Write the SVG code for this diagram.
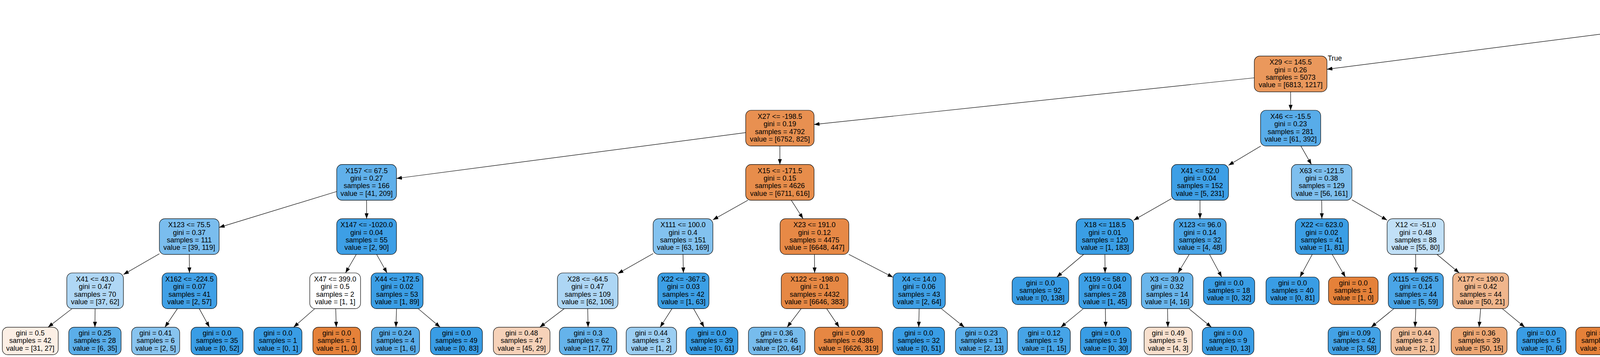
<svg xmlns="http://www.w3.org/2000/svg" width="5973" height="913" viewBox="0 0 5973 913">
<defs>
<marker id="ah" markerUnits="userSpaceOnUse" markerWidth="14" markerHeight="10" refX="13" refY="4.7" orient="auto" viewBox="0 0 13 9.4"><path d="M0,0 L13,4.7 L0,9.4 z" fill="#000"/></marker>
</defs>
<style>
text{font-family:"Liberation Sans",Arial,Helvetica,sans-serif;font-size:18px;text-anchor:middle;fill:#000}
.n rect{stroke:#000;stroke-width:1.2}
#edges line{stroke:#000;stroke-width:1.2;marker-end:url(#ah)}
.lbl{text-anchor:start}
</style>
<rect width="5973" height="913" fill="#fff"/>
<g id="edges">
<line x1="4292" y1="62.4" x2="3397" y2="177.2"/>
<line x1="4479" y1="76.6" x2="4803" y2="167.3"/>
<line x1="3211" y1="199" x2="2084" y2="318.4"/>
<line x1="3304" y1="234.8" x2="3304" y2="282"/>
<line x1="4881.3" y1="234.8" x2="4881.7" y2="282"/>
<line x1="4959" y1="206.4" x2="5436" y2="311.9"/>
<line x1="1909" y1="339.2" x2="1015" y2="456.4"/>
<line x1="1996.5" y1="373.4" x2="1996.5" y2="420.7"/>
<line x1="3227.6" y1="373.4" x2="3145" y2="422.8"/>
<line x1="3330.2" y1="373.4" x2="3357.3" y2="420.7"/>
<line x1="4806" y1="372.3" x2="4718" y2="423.9"/>
<line x1="4952.8" y1="373.4" x2="5026.2" y2="420.7"/>
<line x1="5507.5" y1="373.4" x2="5507" y2="420.7"/>
<line x1="5561.9" y1="373.4" x2="5630.6" y2="431.2"/>
<line x1="862" y1="489.8" x2="561" y2="581.6"/>
<line x1="938.5" y1="512.1" x2="938.5" y2="559.3"/>
<line x1="1914.7" y1="512.1" x2="1825" y2="562.2"/>
<line x1="2025.7" y1="512.1" x2="2055.8" y2="559.3"/>
<line x1="2999" y1="508" x2="2902" y2="563.2"/>
<line x1="3072" y1="512.1" x2="3072" y2="559.3"/>
<line x1="3383.5" y1="512.1" x2="3384" y2="559.3"/>
<line x1="3461" y1="511.1" x2="3551" y2="562.9"/>
<line x1="4573" y1="507.3" x2="4467" y2="567.2"/>
<line x1="4645.5" y1="512.1" x2="4645.5" y2="559.3"/>
<line x1="5097" y1="512.1" x2="5097" y2="559.3"/>
<line x1="5174" y1="509.9" x2="5270" y2="564.1"/>
<line x1="5507" y1="512.1" x2="5508" y2="569.8"/>
<line x1="5559.9" y1="512.1" x2="5614.6" y2="559.3"/>
<line x1="408" y1="649" x2="316" y2="702"/>
<line x1="484.5" y1="650.7" x2="485" y2="698"/>
<line x1="912" y1="650.7" x2="884.5" y2="698"/>
<line x1="964.2" y1="650.7" x2="990.8" y2="698"/>
<line x1="1672" y1="648.5" x2="1582" y2="699.6"/>
<line x1="1748.5" y1="650.7" x2="1749.5" y2="698"/>
<line x1="2085" y1="650.7" x2="2085.5" y2="698"/>
<line x1="2173" y1="650.5" x2="2286" y2="709"/>
<line x1="2774.1" y1="650.7" x2="2705.4" y2="708.5"/>
<line x1="2828.5" y1="650.7" x2="2829" y2="698"/>
<line x1="3044.3" y1="650.7" x2="3015.7" y2="698"/>
<line x1="3096.5" y1="650.7" x2="3127.6" y2="708.5"/>
<line x1="3359.3" y1="650.7" x2="3328" y2="708.5"/>
<line x1="3410.5" y1="650.7" x2="3444.1" y2="708.5"/>
<line x1="3624" y1="650.7" x2="3624.5" y2="698"/>
<line x1="3678.9" y1="650.7" x2="3735.6" y2="698"/>
<line x1="4348.4" y1="650.7" x2="4295.1" y2="698"/>
<line x1="4400" y1="650.7" x2="4400" y2="708.5"/>
<line x1="4617.2" y1="650.7" x2="4587.8" y2="698"/>
<line x1="4671.5" y1="650.7" x2="4698.5" y2="698"/>
<line x1="5071.5" y1="650.7" x2="5045" y2="698"/>
<line x1="5126" y1="650.7" x2="5162.7" y2="708.5"/>
<line x1="5342.5" y1="650.7" x2="5345" y2="698"/>
<line x1="5396.2" y1="650.7" x2="5464.1" y2="708.5"/>
<line x1="5667.5" y1="650.7" x2="5665" y2="708.5"/>
<line x1="5718.1" y1="650.7" x2="5770.4" y2="698"/>
<line x1="184.4" y1="789.4" x2="123" y2="836.8"/>
<line x1="243.5" y1="789.4" x2="243" y2="836.8"/>
<line x1="454.2" y1="789.4" x2="422.2" y2="836.8"/>
<line x1="510.1" y1="789.4" x2="536.2" y2="836.8"/>
<line x1="805.8" y1="789.4" x2="751.7" y2="836.8"/>
<line x1="859.4" y1="789.4" x2="860.9" y2="836.8"/>
<line x1="1015.1" y1="789.4" x2="1013.6" y2="836.8"/>
<line x1="1070.6" y1="789.4" x2="1126.8" y2="836.8"/>
<line x1="1444.3" y1="789.4" x2="1381.9" y2="836.8"/>
<line x1="1504.5" y1="789.4" x2="1505.5" y2="836.8"/>
<line x1="1720.3" y1="789.4" x2="1690" y2="836.8"/>
<line x1="1775.5" y1="789.4" x2="1802.5" y2="836.8"/>
<line x1="2051" y1="789.4" x2="2015.1" y2="836.8"/>
<line x1="2116.3" y1="789.4" x2="2148.3" y2="836.8"/>
<line x1="2353" y1="789.4" x2="2352" y2="836.8"/>
<line x1="2409.8" y1="789.4" x2="2468.7" y2="836.8"/>
<line x1="2773.4" y1="789.4" x2="2715.8" y2="836.8"/>
<line x1="2829.7" y1="789.4" x2="2830.5" y2="836.8"/>
<line x1="2988.9" y1="789.4" x2="2989.8" y2="836.8"/>
<line x1="3043.6" y1="789.4" x2="3101.2" y2="836.8"/>
<line x1="3568.4" y1="789.4" x2="3510.2" y2="836.8"/>
<line x1="3624.5" y1="789.4" x2="3622.5" y2="836.8"/>
<line x1="3790.5" y1="789.4" x2="3786.5" y2="836.8"/>
<line x1="3845.9" y1="789.4" x2="3903.3" y2="836.8"/>
<line x1="4191.3" y1="789.4" x2="4137.2" y2="836.8"/>
<line x1="4245.1" y1="789.4" x2="4246.8" y2="836.8"/>
<line x1="4503.9" y1="789.4" x2="4446.3" y2="836.8"/>
<line x1="4559.5" y1="789.4" x2="4559.5" y2="836.8"/>
<line x1="4719.5" y1="789.4" x2="4714.3" y2="836.8"/>
<line x1="4774.9" y1="789.4" x2="4827.2" y2="836.8"/>
<line x1="5020.6" y1="789.4" x2="5021.7" y2="836.8"/>
<line x1="5076.1" y1="789.4" x2="5134.9" y2="836.8"/>
<line x1="5345" y1="789.4" x2="5343" y2="836.8"/>
<line x1="5399.5" y1="789.4" x2="5456" y2="836.8"/>
<line x1="5793.4" y1="789.4" x2="5764.8" y2="836.8"/>
<line x1="5849.1" y1="789.4" x2="5878.3" y2="836.8"/>
<text class="lbl" x="3399" y="155">True</text>
<text class="lbl" x="4764" y="143">False</text>
</g>
<g id="n0" class="n" transform="translate(4385.5,4.7)"><rect x="-93.5" width="187" height="91.4" rx="14" fill="#eca16b"/><text y="21.9">X13 &lt;= 146.5</text><text y="41.3">gini = 0.32</text><text y="60.7">samples = 5460</text><text y="80.1">value = [6881, 1744]</text></g>
<g id="n1" class="n" transform="translate(3304,143.4)"><rect x="-93" width="186" height="91.4" rx="14" fill="#ea985c"/><text y="21.9">X29 &lt;= 145.5</text><text y="41.3">gini = 0.26</text><text y="60.7">samples = 5073</text><text y="80.1">value = [6813, 1217]</text></g>
<g id="n2" class="n" transform="translate(4881,143.4)"><rect x="-78" width="156" height="91.4" rx="14" fill="#53aae8"/><text y="21.9">X105 &lt;= 77.5</text><text y="41.3">gini = 0.2</text><text y="60.7">samples = 387</text><text y="80.1">value = [68, 527]</text></g>
<g id="n3" class="n" transform="translate(1996.5,282)"><rect x="-87.5" width="175" height="91.4" rx="14" fill="#e89051"/><text y="21.9">X27 &lt;= -198.5</text><text y="41.3">gini = 0.19</text><text y="60.7">samples = 4792</text><text y="80.1">value = [6752, 825]</text></g>
<g id="n4" class="n" transform="translate(3304,282)"><rect x="-77" width="154" height="91.4" rx="14" fill="#58ace9"/><text y="21.9">X46 &lt;= -15.5</text><text y="41.3">gini = 0.23</text><text y="60.7">samples = 281</text><text y="80.1">value = [61, 392]</text></g>
<g id="n5" class="n" transform="translate(4882,282)"><rect x="-76" width="152" height="91.4" rx="14" fill="#6cb6ec"/><text y="21.9">X13 &lt;= 220.5</text><text y="41.3">gini = 0.33</text><text y="60.7">samples = 214</text><text y="80.1">value = [66, 255]</text></g>
<g id="n6" class="n" transform="translate(5507.5,282)"><rect x="-71.5" width="143" height="91.4" rx="14" fill="#3a9ee5"/><text y="21.9">X104 &lt;= 183.0</text><text y="41.3">gini = 0.01</text><text y="60.7">samples = 173</text><text y="80.1">value = [2, 272]</text></g>
<g id="n7" class="n" transform="translate(938.5,420.7)"><rect x="-76.5" width="153" height="91.4" rx="14" fill="#60b0ea"/><text y="21.9">X157 &lt;= 67.5</text><text y="41.3">gini = 0.27</text><text y="60.7">samples = 166</text><text y="80.1">value = [41, 209]</text></g>
<g id="n8" class="n" transform="translate(1996.5,420.7)"><rect x="-87.5" width="175" height="91.4" rx="14" fill="#e78d4b"/><text y="21.9">X15 &lt;= -171.5</text><text y="41.3">gini = 0.15</text><text y="60.7">samples = 4626</text><text y="80.1">value = [6711, 616]</text></g>
<g id="n9" class="n" transform="translate(3072,420.7)"><rect x="-73" width="146" height="91.4" rx="14" fill="#3d9fe6"/><text y="21.9">X41 &lt;= 52.0</text><text y="41.3">gini = 0.04</text><text y="60.7">samples = 152</text><text y="80.1">value = [5, 231]</text></g>
<g id="n10" class="n" transform="translate(3383.5,420.7)"><rect x="-77.5" width="155" height="91.4" rx="14" fill="#7ebfee"/><text y="21.9">X63 &lt;= -121.5</text><text y="41.3">gini = 0.38</text><text y="60.7">samples = 129</text><text y="80.1">value = [56, 161]</text></g>
<g id="n11" class="n" transform="translate(4645.5,420.7)"><rect x="-72.5" width="145" height="91.4" rx="14" fill="#dbedfa"/><text y="21.9">X32 &lt;= -66.5</text><text y="41.3">gini = 0.49</text><text y="60.7">samples = 74</text><text y="80.1">value = [49, 60]</text></g>
<g id="n12" class="n" transform="translate(5097,420.7)"><rect x="-77" width="154" height="91.4" rx="14" fill="#4aa6e7"/><text y="21.9">X95 &lt;= -104.0</text><text y="41.3">gini = 0.15</text><text y="60.7">samples = 140</text><text y="80.1">value = [17, 195]</text></g>
<g id="n13" class="n" transform="translate(5507,420.7)"><rect x="-68" width="136" height="91.4" rx="14" fill="#3e9fe6"/><text y="21.9">X115 &lt;= 63.5</text><text y="41.3">gini = 0.05</text><text y="60.7">samples = 55</text><text y="80.1">value = [2, 80]</text></g>
<g id="n14" class="n" transform="translate(5672.5,431.2)"><rect x="-73.5" width="147" height="70.4" rx="14" fill="#399de5"/><text y="21.1">gini = 0.0</text><text y="40.5">samples = 118</text><text y="59.9">value = [0, 192]</text></g>
<g id="n15" class="n" transform="translate(484.5,559.3)"><rect x="-76.5" width="153" height="91.4" rx="14" fill="#7abdee"/><text y="21.9">X123 &lt;= 75.5</text><text y="41.3">gini = 0.37</text><text y="60.7">samples = 111</text><text y="80.1">value = [39, 119]</text></g>
<g id="n16" class="n" transform="translate(938.5,559.3)"><rect x="-76.5" width="153" height="91.4" rx="14" fill="#3d9fe6"/><text y="21.9">X147 &lt;= -1020.0</text><text y="41.3">gini = 0.04</text><text y="60.7">samples = 55</text><text y="80.1">value = [2, 90]</text></g>
<g id="n17" class="n" transform="translate(1748.5,559.3)"><rect x="-76.5" width="153" height="91.4" rx="14" fill="#83c2ef"/><text y="21.9">X111 &lt;= 100.0</text><text y="41.3">gini = 0.4</text><text y="60.7">samples = 151</text><text y="80.1">value = [63, 169]</text></g>
<g id="n18" class="n" transform="translate(2085,559.3)"><rect x="-88" width="176" height="91.4" rx="14" fill="#e78946"/><text y="21.9">X23 &lt;= 191.0</text><text y="41.3">gini = 0.12</text><text y="60.7">samples = 4475</text><text y="80.1">value = [6648, 447]</text></g>
<g id="n19" class="n" transform="translate(2828.5,559.3)"><rect x="-73.5" width="147" height="91.4" rx="14" fill="#3a9ee5"/><text y="21.9">X18 &lt;= 118.5</text><text y="41.3">gini = 0.01</text><text y="60.7">samples = 120</text><text y="80.1">value = [1, 183]</text></g>
<g id="n20" class="n" transform="translate(3072,559.3)"><rect x="-67" width="134" height="91.4" rx="14" fill="#4aa5e7"/><text y="21.9">X123 &lt;= 96.0</text><text y="41.3">gini = 0.14</text><text y="60.7">samples = 32</text><text y="80.1">value = [4, 48]</text></g>
<g id="n21" class="n" transform="translate(3384,559.3)"><rect x="-68" width="136" height="91.4" rx="14" fill="#3b9ee5"/><text y="21.9">X22 &lt;= 623.0</text><text y="41.3">gini = 0.02</text><text y="60.7">samples = 41</text><text y="80.1">value = [1, 81]</text></g>
<g id="n22" class="n" transform="translate(3624,559.3)"><rect x="-73" width="146" height="91.4" rx="14" fill="#c1e0f7"/><text y="21.9">X12 &lt;= -51.0</text><text y="41.3">gini = 0.48</text><text y="60.7">samples = 88</text><text y="80.1">value = [55, 80]</text></g>
<g id="n23" class="n" transform="translate(4400,559.3)"><rect x="-67" width="134" height="91.4" rx="14" fill="#4da7e8"/><text y="21.9">X18 &lt;= -28.5</text><text y="41.3">gini = 0.17</text><text y="60.7">samples = 21</text><text y="80.1">value = [3, 30]</text></g>
<g id="n24" class="n" transform="translate(4645.5,559.3)"><rect x="-72.5" width="145" height="91.4" rx="14" fill="#f6d3ba"/><text y="21.9">X82 &lt;= -125.5</text><text y="41.3">gini = 0.48</text><text y="60.7">samples = 53</text><text y="80.1">value = [46, 30]</text></g>
<g id="n25" class="n" transform="translate(5097,559.3)"><rect x="-73" width="146" height="91.4" rx="14" fill="#64b2eb"/><text y="21.9">X87 &lt;= 8.5</text><text y="41.3">gini = 0.29</text><text y="60.7">samples = 54</text><text y="80.1">value = [14, 65]</text></g>
<g id="n26" class="n" transform="translate(5342.5,559.3)"><rect x="-72.5" width="145" height="91.4" rx="14" fill="#3e9fe6"/><text y="21.9">X14 &lt;= 259.5</text><text y="41.3">gini = 0.04</text><text y="60.7">samples = 86</text><text y="80.1">value = [3, 130]</text></g>
<g id="n27" class="n" transform="translate(5508,569.8)"><rect x="-67" width="134" height="70.4" rx="14" fill="#399de5"/><text y="21.1">gini = 0.0</text><text y="40.5">samples = 31</text><text y="59.9">value = [0, 49]</text></g>
<g id="n28" class="n" transform="translate(5667.5,559.3)"><rect x="-68.5" width="137" height="91.4" rx="14" fill="#46a3e7"/><text y="21.9">X115 &lt;= 79.0</text><text y="41.3">gini = 0.11</text><text y="60.7">samples = 24</text><text y="80.1">value = [2, 31]</text></g>
<g id="n29" class="n" transform="translate(243.5,698)"><rect x="-72.5" width="145" height="91.4" rx="14" fill="#afd7f5"/><text y="21.9">X41 &lt;= 43.0</text><text y="41.3">gini = 0.47</text><text y="60.7">samples = 70</text><text y="80.1">value = [37, 62]</text></g>
<g id="n30" class="n" transform="translate(485,698)"><rect x="-70" width="140" height="91.4" rx="14" fill="#40a0e6"/><text y="21.9">X162 &lt;= -224.5</text><text y="41.3">gini = 0.07</text><text y="60.7">samples = 41</text><text y="80.1">value = [2, 57]</text></g>
<g id="n31" class="n" transform="translate(858,698)"><rect x="-65" width="130" height="91.4" rx="14" fill="#ffffff"/><text y="21.9">X47 &lt;= 399.0</text><text y="41.3">gini = 0.5</text><text y="60.7">samples = 2</text><text y="80.1">value = [1, 1]</text></g>
<g id="n32" class="n" transform="translate(1016.5,698)"><rect x="-66.5" width="133" height="91.4" rx="14" fill="#3b9ee5"/><text y="21.9">X44 &lt;= -172.5</text><text y="41.3">gini = 0.02</text><text y="60.7">samples = 53</text><text y="80.1">value = [1, 89]</text></g>
<g id="n33" class="n" transform="translate(1504.5,698)"><rect x="-77.5" width="155" height="91.4" rx="14" fill="#add6f4"/><text y="21.9">X28 &lt;= -64.5</text><text y="41.3">gini = 0.47</text><text y="60.7">samples = 109</text><text y="80.1">value = [62, 106]</text></g>
<g id="n34" class="n" transform="translate(1749.5,698)"><rect x="-65.5" width="131" height="91.4" rx="14" fill="#3c9fe5"/><text y="21.9">X22 &lt;= -367.5</text><text y="41.3">gini = 0.03</text><text y="60.7">samples = 42</text><text y="80.1">value = [1, 63]</text></g>
<g id="n35" class="n" transform="translate(2085.5,698)"><rect x="-85.5" width="171" height="91.4" rx="14" fill="#e68844"/><text y="21.9">X122 &lt;= -198.0</text><text y="41.3">gini = 0.1</text><text y="60.7">samples = 4432</text><text y="80.1">value = [6646, 383]</text></g>
<g id="n36" class="n" transform="translate(2353,698)"><rect x="-67" width="134" height="91.4" rx="14" fill="#3fa0e6"/><text y="21.9">X4 &lt;= 14.0</text><text y="41.3">gini = 0.06</text><text y="60.7">samples = 43</text><text y="80.1">value = [2, 64]</text></g>
<g id="n37" class="n" transform="translate(2663.5,708.5)"><rect x="-72.5" width="145" height="70.4" rx="14" fill="#399de5"/><text y="21.1">gini = 0.0</text><text y="40.5">samples = 92</text><text y="59.9">value = [0, 138]</text></g>
<g id="n38" class="n" transform="translate(2829,698)"><rect x="-67" width="134" height="91.4" rx="14" fill="#3d9fe6"/><text y="21.9">X159 &lt;= 58.0</text><text y="41.3">gini = 0.04</text><text y="60.7">samples = 28</text><text y="80.1">value = [1, 45]</text></g>
<g id="n39" class="n" transform="translate(2988,698)"><rect x="-66" width="132" height="91.4" rx="14" fill="#6ab6ec"/><text y="21.9">X3 &lt;= 39.0</text><text y="41.3">gini = 0.32</text><text y="60.7">samples = 14</text><text y="80.1">value = [4, 16]</text></g>
<g id="n40" class="n" transform="translate(3146.5,708.5)"><rect x="-65.5" width="131" height="70.4" rx="14" fill="#399de5"/><text y="21.1">gini = 0.0</text><text y="40.5">samples = 18</text><text y="59.9">value = [0, 32]</text></g>
<g id="n41" class="n" transform="translate(3309,708.5)"><rect x="-68" width="136" height="70.4" rx="14" fill="#399de5"/><text y="21.1">gini = 0.0</text><text y="40.5">samples = 40</text><text y="59.9">value = [0, 81]</text></g>
<g id="n42" class="n" transform="translate(3464.5,708.5)"><rect x="-63.5" width="127" height="70.4" rx="14" fill="#e58139"/><text y="21.1">gini = 0.0</text><text y="40.5">samples = 1</text><text y="59.9">value = [1, 0]</text></g>
<g id="n43" class="n" transform="translate(3624.5,698)"><rect x="-70.5" width="141" height="91.4" rx="14" fill="#4aa5e7"/><text y="21.9">X115 &lt;= 625.5</text><text y="41.3">gini = 0.14</text><text y="60.7">samples = 44</text><text y="80.1">value = [5, 59]</text></g>
<g id="n44" class="n" transform="translate(3790.5,698)"><rect x="-71.5" width="143" height="91.4" rx="14" fill="#f0b68c"/><text y="21.9">X177 &lt;= 190.0</text><text y="41.3">gini = 0.42</text><text y="60.7">samples = 44</text><text y="80.1">value = [50, 21]</text></g>
<g id="n45" class="n" transform="translate(4243.5,698)"><rect x="-63.5" width="127" height="91.4" rx="14" fill="#ffffff"/><text y="21.9">X79 &lt;= -14.0</text><text y="41.3">gini = 0.5</text><text y="60.7">samples = 4</text><text y="80.1">value = [3, 3]</text></g>
<g id="n46" class="n" transform="translate(4400,708.5)"><rect x="-67" width="134" height="70.4" rx="14" fill="#399de5"/><text y="21.1">gini = 0.0</text><text y="40.5">samples = 17</text><text y="59.9">value = [0, 27]</text></g>
<g id="n47" class="n" transform="translate(4559.5,698)"><rect x="-67.5" width="135" height="91.4" rx="14" fill="#4fa8e8"/><text y="21.9">X14 &lt;= 248.5</text><text y="41.3">gini = 0.18</text><text y="60.7">samples = 13</text><text y="80.1">value = [2, 18]</text></g>
<g id="n48" class="n" transform="translate(4724.5,698)"><rect x="-72.5" width="145" height="91.4" rx="14" fill="#eca36f"/><text y="21.9">X128 &lt;= -133.5</text><text y="41.3">gini = 0.34</text><text y="60.7">samples = 40</text><text y="80.1">value = [44, 12]</text></g>
<g id="n49" class="n" transform="translate(5019.5,698)"><rect x="-72.5" width="145" height="91.4" rx="14" fill="#86c3ef"/><text y="21.9">X50 &lt;= -124.5</text><text y="41.3">gini = 0.4</text><text y="60.7">samples = 34</text><text y="80.1">value = [14, 36]</text></g>
<g id="n50" class="n" transform="translate(5185,708.5)"><rect x="-67" width="134" height="70.4" rx="14" fill="#399de5"/><text y="21.1">gini = 0.0</text><text y="40.5">samples = 20</text><text y="59.9">value = [0, 29]</text></g>
<g id="n51" class="n" transform="translate(5345,698)"><rect x="-68" width="136" height="91.4" rx="14" fill="#4aa5e7"/><text y="21.9">X15 &lt;= 219.5</text><text y="41.3">gini = 0.15</text><text y="60.7">samples = 25</text><text y="80.1">value = [3, 35]</text></g>
<g id="n52" class="n" transform="translate(5505.5,708.5)"><rect x="-67.5" width="135" height="70.4" rx="14" fill="#399de5"/><text y="21.1">gini = 0.0</text><text y="40.5">samples = 61</text><text y="59.9">value = [0, 95]</text></g>
<g id="n53" class="n" transform="translate(5665,708.5)"><rect x="-64" width="128" height="70.4" rx="14" fill="#e58139"/><text y="21.1">gini = 0.0</text><text y="40.5">samples = 1</text><text y="59.9">value = [1, 0]</text></g>
<g id="n54" class="n" transform="translate(5821,698)"><rect x="-68" width="136" height="91.4" rx="14" fill="#3fa0e6"/><text y="21.9">X39 &lt;= -1.0</text><text y="41.3">gini = 0.06</text><text y="60.7">samples = 23</text><text y="80.1">value = [1, 31]</text></g>
<g id="n55" class="n" transform="translate(77.5,836.8)"><rect x="-71.5" width="143" height="70.4" rx="14" fill="#fcefe5"/><text y="21.1">gini = 0.5</text><text y="40.5">samples = 42</text><text y="59.9">value = [31, 27]</text></g>
<g id="n56" class="n" transform="translate(243,836.8)"><rect x="-67" width="134" height="70.4" rx="14" fill="#5baee9"/><text y="21.1">gini = 0.25</text><text y="40.5">samples = 28</text><text y="59.9">value = [6, 35]</text></g>
<g id="n57" class="n" transform="translate(398.5,836.8)"><rect x="-61.5" width="123" height="70.4" rx="14" fill="#88c4ef"/><text y="21.1">gini = 0.41</text><text y="40.5">samples = 6</text><text y="59.9">value = [2, 5]</text></g>
<g id="n58" class="n" transform="translate(555.5,836.8)"><rect x="-66.5" width="133" height="70.4" rx="14" fill="#399de5"/><text y="21.1">gini = 0.0</text><text y="40.5">samples = 35</text><text y="59.9">value = [0, 52]</text></g>
<g id="n59" class="n" transform="translate(711.5,836.8)"><rect x="-61.5" width="123" height="70.4" rx="14" fill="#399de5"/><text y="21.1">gini = 0.0</text><text y="40.5">samples = 1</text><text y="59.9">value = [0, 1]</text></g>
<g id="n60" class="n" transform="translate(862,836.8)"><rect x="-61" width="122" height="70.4" rx="14" fill="#e58139"/><text y="21.1">gini = 0.0</text><text y="40.5">samples = 1</text><text y="59.9">value = [1, 0]</text></g>
<g id="n61" class="n" transform="translate(1012.5,836.8)"><rect x="-61.5" width="123" height="70.4" rx="14" fill="#5aade9"/><text y="21.1">gini = 0.24</text><text y="40.5">samples = 4</text><text y="59.9">value = [1, 6]</text></g>
<g id="n62" class="n" transform="translate(1168.5,836.8)"><rect x="-66.5" width="133" height="70.4" rx="14" fill="#399de5"/><text y="21.1">gini = 0.0</text><text y="40.5">samples = 49</text><text y="59.9">value = [0, 83]</text></g>
<g id="n63" class="n" transform="translate(1335.5,836.8)"><rect x="-72.5" width="145" height="70.4" rx="14" fill="#f6d2b9"/><text y="21.1">gini = 0.48</text><text y="40.5">samples = 47</text><text y="59.9">value = [45, 29]</text></g>
<g id="n64" class="n" transform="translate(1505.5,836.8)"><rect x="-73.5" width="147" height="70.4" rx="14" fill="#65b3eb"/><text y="21.1">gini = 0.3</text><text y="40.5">samples = 62</text><text y="59.9">value = [17, 77]</text></g>
<g id="n65" class="n" transform="translate(1667.5,836.8)"><rect x="-64.5" width="129" height="70.4" rx="14" fill="#9ccef2"/><text y="21.1">gini = 0.44</text><text y="40.5">samples = 3</text><text y="59.9">value = [1, 2]</text></g>
<g id="n66" class="n" transform="translate(1822.5,836.8)"><rect x="-66.5" width="133" height="70.4" rx="14" fill="#399de5"/><text y="21.1">gini = 0.0</text><text y="40.5">samples = 39</text><text y="59.9">value = [0, 61]</text></g>
<g id="n67" class="n" transform="translate(1988.5,836.8)"><rect x="-72.5" width="145" height="70.4" rx="14" fill="#77bced"/><text y="21.1">gini = 0.36</text><text y="40.5">samples = 46</text><text y="59.9">value = [20, 64]</text></g>
<g id="n68" class="n" transform="translate(2172,836.8)"><rect x="-87" width="174" height="70.4" rx="14" fill="#e68743"/><text y="21.1">gini = 0.09</text><text y="40.5">samples = 4386</text><text y="59.9">value = [6626, 319]</text></g>
<g id="n69" class="n" transform="translate(2352,836.8)"><rect x="-66" width="132" height="70.4" rx="14" fill="#399de5"/><text y="21.1">gini = 0.0</text><text y="40.5">samples = 32</text><text y="59.9">value = [0, 51]</text></g>
<g id="n70" class="n" transform="translate(2512.5,836.8)"><rect x="-66.5" width="133" height="70.4" rx="14" fill="#57ace9"/><text y="21.1">gini = 0.23</text><text y="40.5">samples = 11</text><text y="59.9">value = [2, 13]</text></g>
<g id="n71" class="n" transform="translate(2673,836.8)"><rect x="-67" width="134" height="70.4" rx="14" fill="#46a4e7"/><text y="21.1">gini = 0.12</text><text y="40.5">samples = 9</text><text y="59.9">value = [1, 15]</text></g>
<g id="n72" class="n" transform="translate(2831,836.8)"><rect x="-65" width="130" height="70.4" rx="14" fill="#399de5"/><text y="21.1">gini = 0.0</text><text y="40.5">samples = 19</text><text y="59.9">value = [0, 30]</text></g>
<g id="n73" class="n" transform="translate(2990.5,836.8)"><rect x="-61.5" width="123" height="70.4" rx="14" fill="#f8e0ce"/><text y="21.1">gini = 0.49</text><text y="40.5">samples = 5</text><text y="59.9">value = [4, 3]</text></g>
<g id="n74" class="n" transform="translate(3144,836.8)"><rect x="-66" width="132" height="70.4" rx="14" fill="#399de5"/><text y="21.1">gini = 0.0</text><text y="40.5">samples = 9</text><text y="59.9">value = [0, 13]</text></g>
<g id="n75" class="n" transform="translate(3467,836.8)"><rect x="-67" width="134" height="70.4" rx="14" fill="#43a2e6"/><text y="21.1">gini = 0.09</text><text y="40.5">samples = 42</text><text y="59.9">value = [3, 58]</text></g>
<g id="n76" class="n" transform="translate(3622.5,836.8)"><rect x="-61.5" width="123" height="70.4" rx="14" fill="#f2c09c"/><text y="21.1">gini = 0.44</text><text y="40.5">samples = 2</text><text y="59.9">value = [2, 1]</text></g>
<g id="n77" class="n" transform="translate(3786.5,836.8)"><rect x="-71.5" width="143" height="70.4" rx="14" fill="#eda774"/><text y="21.1">gini = 0.36</text><text y="40.5">samples = 39</text><text y="59.9">value = [50, 15]</text></g>
<g id="n78" class="n" transform="translate(3946,836.8)"><rect x="-63" width="126" height="70.4" rx="14" fill="#399de5"/><text y="21.1">gini = 0.0</text><text y="40.5">samples = 5</text><text y="59.9">value = [0, 6]</text></g>
<g id="n79" class="n" transform="translate(4097,836.8)"><rect x="-63" width="126" height="70.4" rx="14" fill="#e58139"/><text y="21.1">gini = 0.0</text><text y="40.5">samples = 2</text><text y="59.9">value = [3, 0]</text></g>
<g id="n80" class="n" transform="translate(4248,836.8)"><rect x="-63" width="126" height="70.4" rx="14" fill="#399de5"/><text y="21.1">gini = 0.0</text><text y="40.5">samples = 2</text><text y="59.9">value = [0, 3]</text></g>
<g id="n81" class="n" transform="translate(4403.5,836.8)"><rect x="-67.5" width="135" height="70.4" rx="14" fill="#44a2e6"/><text y="21.1">gini = 0.1</text><text y="40.5">samples = 12</text><text y="59.9">value = [1, 18]</text></g>
<g id="n82" class="n" transform="translate(4559.5,836.8)"><rect x="-62.5" width="125" height="70.4" rx="14" fill="#e58139"/><text y="21.1">gini = 0.0</text><text y="40.5">samples = 1</text><text y="59.9">value = [1, 0]</text></g>
<g id="n83" class="n" transform="translate(4710.5,836.8)"><rect x="-62.5" width="125" height="70.4" rx="14" fill="#399de5"/><text y="21.1">gini = 0.0</text><text y="40.5">samples = 5</text><text y="59.9">value = [0, 6]</text></g>
<g id="n84" class="n" transform="translate(4866,836.8)"><rect x="-68" width="136" height="70.4" rx="14" fill="#e99254"/><text y="21.1">gini = 0.21</text><text y="40.5">samples = 35</text><text y="59.9">value = [44, 6]</text></g>
<g id="n85" class="n" transform="translate(5022.5,836.8)"><rect x="-62.5" width="125" height="70.4" rx="14" fill="#efb083"/><text y="21.1">gini = 0.4</text><text y="40.5">samples = 8</text><text y="59.9">value = [8, 3]</text></g>
<g id="n86" class="n" transform="translate(5178.5,836.8)"><rect x="-67.5" width="135" height="70.4" rx="14" fill="#5dafea"/><text y="21.1">gini = 0.26</text><text y="40.5">samples = 26</text><text y="59.9">value = [6, 33]</text></g>
<g id="n87" class="n" transform="translate(5343,836.8)"><rect x="-68" width="136" height="70.4" rx="14" fill="#399de5"/><text y="21.1">gini = 0.0</text><text y="40.5">samples = 20</text><text y="59.9">value = [0, 32]</text></g>
<g id="n88" class="n" transform="translate(5498,836.8)"><rect x="-64" width="128" height="70.4" rx="14" fill="#ffffff"/><text y="21.1">gini = 0.5</text><text y="40.5">samples = 5</text><text y="59.9">value = [3, 3]</text></g>
<g id="n89" class="n" transform="translate(5743.5,836.8)"><rect x="-63.5" width="127" height="70.4" rx="14" fill="#55abe9"/><text y="21.1">gini = 0.22</text><text y="40.5">samples = 8</text><text y="59.9">value = [1, 7]</text></g>
<g id="n90" class="n" transform="translate(5900,836.8)"><rect x="-68" width="136" height="70.4" rx="14" fill="#399de5"/><text y="21.1">gini = 0.0</text><text y="40.5">samples = 15</text><text y="59.9">value = [0, 24]</text></g>
</svg>
